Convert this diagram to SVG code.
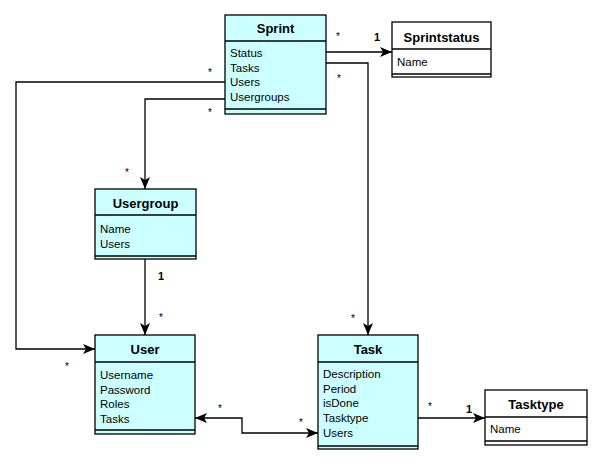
<svg xmlns="http://www.w3.org/2000/svg" width="603" height="465" viewBox="0 0 603 465">
<style>
.box{fill:#ccffff;stroke:#000;stroke-width:1.3}
.wbox{fill:#fff;stroke:#000;stroke-width:1.3}
.ln{stroke:#000;stroke-width:1.3;fill:none}
.t{font-family:"Liberation Sans",Arial,sans-serif;font-size:13px;font-weight:bold;text-anchor:middle}
.a{font-family:"Liberation Sans",Arial,sans-serif;font-size:11.5px}
.s{font-family:"Liberation Sans",Arial,sans-serif;font-size:10px}
.o{font-family:"Liberation Sans",Arial,sans-serif;font-size:11px;font-weight:bold}
</style>
<defs>
<marker id="ar" viewBox="0 0 12 10" refX="12" refY="5" markerWidth="12" markerHeight="10" markerUnits="userSpaceOnUse" orient="auto-start-reverse">
<path d="M0,0 L12,5 L0,10 L3,5 Z" fill="#000"/>
</marker>
</defs>
<rect width="603" height="465" fill="#fff"/>
<g id="connectors">
<path class="ln" d="M326,52 H392" marker-end="url(#ar)"/>
<path class="ln" d="M326,63 H368 V335" marker-end="url(#ar)"/>
<path class="ln" d="M225,82 H16 V349 H95" marker-end="url(#ar)"/>
<path class="ln" d="M225,99 H145 V189" marker-end="url(#ar)"/>
<path class="ln" d="M145,259 V335" marker-end="url(#ar)"/>
<path class="ln" d="M195,418 H242 V433 H318" marker-start="url(#ar)" marker-end="url(#ar)"/>
<path class="ln" d="M418,418 H485" marker-end="url(#ar)"/>
<text class="s" x="336" y="40">*</text>
<text class="o" x="374" y="41">1</text>
<text class="s" x="337" y="82">*</text>
<text class="s" x="351" y="322">*</text>
<text class="s" x="208" y="76">*</text>
<text class="s" x="65" y="370">*</text>
<text class="s" x="208" y="116">*</text>
<text class="s" x="125" y="176">*</text>
<text class="o" x="158" y="280">1</text>
<text class="s" x="159" y="321">*</text>
<text class="s" x="218" y="412">*</text>
<text class="s" x="299" y="426">*</text>
<text class="s" x="428" y="410">*</text>
<text class="o" x="466" y="413">1</text>
</g>
<g id="Sprint">
<rect class="box" x="225" y="15" width="101" height="99"/>
<line class="ln" x1="225" y1="41" x2="326" y2="41"/>
<line class="ln" x1="225" y1="109" x2="326" y2="109"/>
<text class="t" x="275.5" y="33">Sprint</text>
<text class="a" x="230" y="57">Status</text>
<text class="a" x="230" y="72">Tasks</text>
<text class="a" x="230" y="86">Users</text>
<text class="a" x="230" y="101">Usergroups</text>
</g>
<g id="Sprintstatus">
<rect class="wbox" x="392" y="22" width="99" height="55"/>
<line class="ln" x1="392" y1="49" x2="491" y2="49"/>
<line class="ln" x1="392" y1="74" x2="491" y2="74"/>
<text class="t" x="441.5" y="42">Sprintstatus</text>
<text class="a" x="397" y="66">Name</text>
</g>
<g id="Usergroup">
<rect class="box" x="95" y="189" width="101" height="70"/>
<line class="ln" x1="95" y1="215" x2="196" y2="215"/>
<line class="ln" x1="95" y1="256" x2="196" y2="256"/>
<text class="t" x="145.5" y="208">Usergroup</text>
<text class="a" x="100" y="233">Name</text>
<text class="a" x="100" y="248">Users</text>
</g>
<g id="User">
<rect class="box" x="95" y="335" width="100" height="99"/>
<line class="ln" x1="95" y1="362" x2="195" y2="362"/>
<line class="ln" x1="95" y1="430" x2="195" y2="430"/>
<text class="t" x="145" y="354">User</text>
<text class="a" x="100" y="379">Username</text>
<text class="a" x="100" y="394">Password</text>
<text class="a" x="100" y="408">Roles</text>
<text class="a" x="100" y="423">Tasks</text>
</g>
<g id="Task">
<rect class="box" x="318" y="335" width="100" height="114"/>
<line class="ln" x1="318" y1="362" x2="418" y2="362"/>
<line class="ln" x1="318" y1="446" x2="418" y2="446"/>
<text class="t" x="368" y="354">Task</text>
<text class="a" x="323" y="378">Description</text>
<text class="a" x="323" y="393">Period</text>
<text class="a" x="323" y="407">isDone</text>
<text class="a" x="323" y="422">Tasktype</text>
<text class="a" x="323" y="437">Users</text>
</g>
<g id="Tasktype">
<rect class="wbox" x="485" y="390" width="102" height="55"/>
<line class="ln" x1="485" y1="417" x2="587" y2="417"/>
<line class="ln" x1="485" y1="441" x2="587" y2="441"/>
<text class="t" x="536" y="409">Tasktype</text>
<text class="a" x="490" y="433">Name</text>
</g>
</svg>
